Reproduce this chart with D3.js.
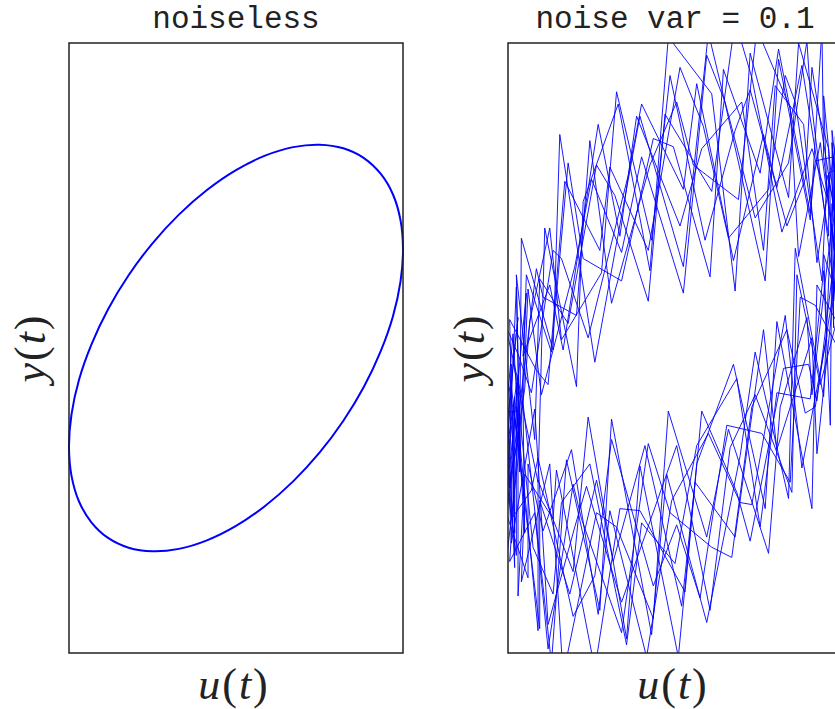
<!DOCTYPE html>
<html>
<head>
<meta charset="utf-8">
<script src="https://cdn.jsdelivr.net/npm/d3@7"></script>
<style>
  body { margin: 0; background: #fff; }
  svg { display: block; }
</style>
</head>
<body>
<script>
// noiseless input/output pair, one period
const cleanU = [1, .985, .94, .866, .766, .643, .5, .342, .174, 0, -.174, -.342, -.5, -.643, -.766, -.866, -.94, -.985,
  -1, -.985, -.94, -.866, -.766, -.643, -.5, -.342, -.174, 0, .174, .342, .5, .643, .766, .866, .94, .985];
const cleanY = [.485, .629, .755, .857, .934, .982, 1, .988, .946, .875, .777, .656, .515, .358, .191, .017, -.156, -.326,
  -.485, -.629, -.755, -.857, -.934, -.982, -1, -.988, -.946, -.875, -.777, -.656, -.515, -.358, -.191, -.017, .156, .326];

// noisy record (10 periods)
const noisyU = [
  .97, 1.00, .89, .91, .82, .64, .46, .36, .22, -.06, -.16, -.36, -.47, -.64, -.81, -.84, -.95, -.93,
  -1.03, -.98, -.90, -.92, -.75, -.67, -.47, -.35, -.13, -.04, .19, .32, .56, .63, .79, .82, .94, 1.02,
  1.04, .97, .95, .81, .79, .68, .48, .30, .19, .05, -.20, -.32, -.50, -.60, -.80, -.88, -.91, -1.04,
  -.98, -.98, -.96, -.81, -.81, -.63, -.47, -.37, -.18, .04, .12, .36, .53, .61, .82, .85, .94, 1.01,
  .99, 1.03, .91, .88, .72, .66, .56, .32, .17, .03, -.16, -.39, -.45, -.66, -.76, -.83, -.99, -.96,
  -.96, -1.00, -.98, -.84, -.76, -.60, -.53, -.32, -.23, .01, .21, .33, .48, .70, .73, .87, .97, .97,
  1.03, .94, .96, .87, .74, .69, .49, .38, .11, .01, -.15, -.38, -.51, -.59, -.79, -.83, -.99, -.98,
  -.98, -1.02, -.88, -.88, -.79, -.62, -.46, -.39, -.17, -.02, .20, .39, .46, .66, .76, .91, .89, 1.01,
  .96, 1.01, .95, .84, .81, .62, .51, .29, .21, -.01, -.13, -.32, -.55, -.64, -.74, -.89, -.93, -.94,
  -1.06, -.95, -.95, -.85, -.73, -.68, -.51, -.29, -.20, .00, .13, .37, .51, .61, .81, .89, .93, .94,
  1.01, 1.02, .92, .92, .76, .61, .53, .35, .13, .05, -.20, -.28, -.52, -.68, -.73, -.86, -.94, -1.03,
  -.96, -.97, -.97, -.86, -.82, -.61, -.48, -.38, -.13, .01, .15, .31, .52, .69, .75, .84, .97, .99,
  .98, .99, .98, .82, .78, .67, .45, .36, .18, -.03, -.14, -.35, -.44, -.68, -.75, -.87, -.90, -1.01,
  -1.01, -.94, -.99, -.84, -.76, -.61, -.56, -.32, -.16, -.03, .22, .34, .46, .67, .78, .84, .99, .98,
  1.02, .95, .99, .85, .77, .60, .53, .40, .16, .03, -.23, -.33, -.46, -.67, -.75, -.91, -.89, -.99,
  -1.03, -.94, -.94, -.90, -.73, -.71, -.48, -.33, -.21, .06, .16, .37, .45, .65, .80, .85, .99, .95,
  .96, 1.02, .89, .88, .81, .62, .54, .29, .20, .05, -.21, -.30, -.48, -.69, -.73, -.92, -.93, -.95,
  -1.03, -.93, -.95, -.82, -.82, -.61, -.52, -.29, -.21, .02, .13, .35, .54, .61, .82, .85, .98, .95,
  1.04, .94, .95, .92, .74, .68, .45, .36, .22, -.04, -.15, -.34, -.55, -.59, -.78, -.82, -.97, -.94,
  -1.06, -.97, -.90, -.91, -.74, -.65, -.45, -.38, -.14, -.05, .19, .39, .48, .68, .72, .89, .94, 1.03
];
const noisyY = [
  .70, .28, 1.24, .74, .98, .57, 1.33, 1.61, .77, 1.15, .23, .75, .90, .12, .34, -.45, .36, -.41,
  -.80, -.19, -.74, -1.15, -.57, -1.61, -.81, -.88, -1.33, -.31, -.93, -.40, -1.01, -.29, .15, -.23, .61, .00,
  .21, .76, .30, 1.25, 1.51, .91, .64, 1.21, 1.44, .27, .94, .47, .83, .40, -.23, .29, -.27, .20,
  -.83, -.55, -.35, -1.38, -.75, -1.21, -.65, -1.05, -.48, -1.27, -.66, -.93, .09, -.50, .05, -.52, .19, .70,
  .91, .46, .85, .33, 1.21, 1.34, .78, .54, 1.09, 1.38, .48, .89, .48, .82, -.18, -.11, .14, -.91,
  -.24, -.56, -.96, -.30, -1.36, -.88, -.68, -1.25, -1.04, -.48, -1.29, -.49, -.23, -.71, .36, -.18, .14, .54,
  .40, 1.07, .44, 1.01, .45, 1.18, 1.57, .73, .90, 1.21, .90, .22, 1.02, .16, .25, .39, -.69, -.09,
  -.08, -.79, -1.13, -.57, -.90, -.50, -1.31, -.80, -1.52, -.75, -.42, -.76, -.77, .16, -.59, .06, .46, .15,
  .79, .13, .94, .92, .66, 1.47, .86, 1.37, .35, .99, 1.03, .33, .44, .91, -.02, .36, -.61, -.31,
  -.32, -1.02, -.17, -.98, -1.21, -.76, -.57, -1.46, -.86, -1.06, -.48, -.15, -.88, -.22, -.25, .38, -.38, .59,
  .09, .90, .86, .55, 1.39, .79, 1.05, .43, 1.30, .78, 1.20, .85, .05, .44, .48, -.22, -.03, .14,
  -1.08, -.31, -.83, -.70, -.54, -1.32, -1.12, -.45, -1.17, -.87, -1.23, -.38, -.42, -.66, .25, .21, .01, -.15,
  .63, .98, .53, 1.38, .83, .60, 1.27, 1.07, .53, 1.34, .53, 1.26, .37, .04, .59, .13, -.20, -.82,
  -.12, -.43, -1.05, -.81, -1.48, -.67, -.84, -1.40, -.47, -.81, -.98, -1.03, -.29, .09, -.32, -.29, .50, .42,
  .30, .69, 1.16, .42, 1.10, 1.29, .48, 1.21, .98, .60, 1.14, .55, 1.10, -.01, .31, -.04, .27, -.59,
  -.63, -.13, -1.22, -.62, -.84, -.60, -1.58, -.79, -.80, -1.20, -.31, -.71, -.95, -.10, -.08, -.26, .69, .23,
  1.04, .01, .94, 1.57, .63, 1.42, .33, 1.24, 1.55, .40, 1.14, .74, -.07, 1.05, -.01, .54, -.51, .30,
  -1.19, -.48, -.29, -1.39, -.65, -1.10, -.34, -1.43, -.58, -1.52, -.57, -.08, -.79, .13, -.79, .31, .11, .94,
  -.02, 1.01, .10, .98, 1.50, .74, 1.45, .28, 1.25, 1.53, .38, 1.20, .72, -.19, .59, -.66, -.07, .15,
  -.82, .07, -.91, -.27, -1.55, -.55, -1.29, -.35, -1.41, -.62, -1.35, -.53, -.02, -.74, .49, -.24, .71, -.08
];

const titles = ["noiseless", "noise var = 0.1"];
const xDomain = [-1, 1];
const yDomain = [-1.5, 1.5];

const W = 835, H = 709;
const boxTop = 43, boxBottom = 653, boxW = 334;
const panelX = [69, 508];
const ink = "#222";

const svg = d3.select("body").append("svg").attr("width", W).attr("height", H);

const cleanPts = cleanU.map((u, i) => [u, cleanY[i]]);
const noisyPts = noisyU.map((u, i) => [u, noisyY[i]]);

const panels = [
  { x0: panelX[0], title: titles[0], pts: cleanPts, closed: true, sw: 2 },
  { x0: panelX[1], title: titles[1], pts: noisyPts, closed: false, sw: 0.9 }
];

panels.forEach((p, k) => {
  const x = d3.scaleLinear().domain(xDomain).range([p.x0, p.x0 + boxW]);
  const y = d3.scaleLinear().domain(yDomain).range([boxBottom, boxTop]);
  const g = svg.append("g");

  const clipId = "clip" + k;
  svg.append("clipPath").attr("id", clipId)
    .append("rect").attr("x", p.x0).attr("y", boxTop).attr("width", boxW).attr("height", boxBottom - boxTop);

  const line = d3.line()
    .x(d => x(d[0]))
    .y(d => y(d[1]))
    .curve(p.closed ? d3.curveCatmullRomClosed : d3.curveLinear);

  g.append("path")
    .datum(p.pts)
    .attr("clip-path", p.closed ? null : `url(#${clipId})`)
    .attr("d", line)
    .attr("fill", "none")
    .attr("stroke", "#0000ff")
    .attr("stroke-width", p.sw)
    .attr("stroke-linejoin", "miter");

  // axes box, no ticks
  g.append("rect")
    .attr("x", p.x0).attr("y", boxTop)
    .attr("width", boxW).attr("height", boxBottom - boxTop)
    .attr("fill", "none")
    .attr("stroke", ink)
    .attr("stroke-width", 1.5);

  const cx = p.x0 + boxW / 2;

  g.append("text")
    .attr("x", cx).attr("y", 28)
    .attr("text-anchor", "middle")
    .attr("font-family", "Liberation Mono, monospace")
    .attr("font-size", 31)
    .attr("fill", ink)
    .text(p.title);

  const label = (sel, v) => {
    sel.attr("font-family", "Liberation Serif, serif")
      .attr("font-size", 44)
      .attr("fill", ink)
      .attr("text-anchor", "middle")
      .attr("letter-spacing", 2);
    sel.append("tspan").attr("font-style", "italic").text(v);
    sel.append("tspan").text("(");
    sel.append("tspan").attr("font-style", "italic").text("t");
    sel.append("tspan").text(")");
  };

  g.append("text").attr("x", cx - 2).attr("y", 699).call(label, "u");
  g.append("text")
    .attr("transform", `translate(${p.x0 - 24},${(boxTop + boxBottom) / 2}) rotate(-90)`)
    .call(label, "y");
});
</script>
</body>
</html>
